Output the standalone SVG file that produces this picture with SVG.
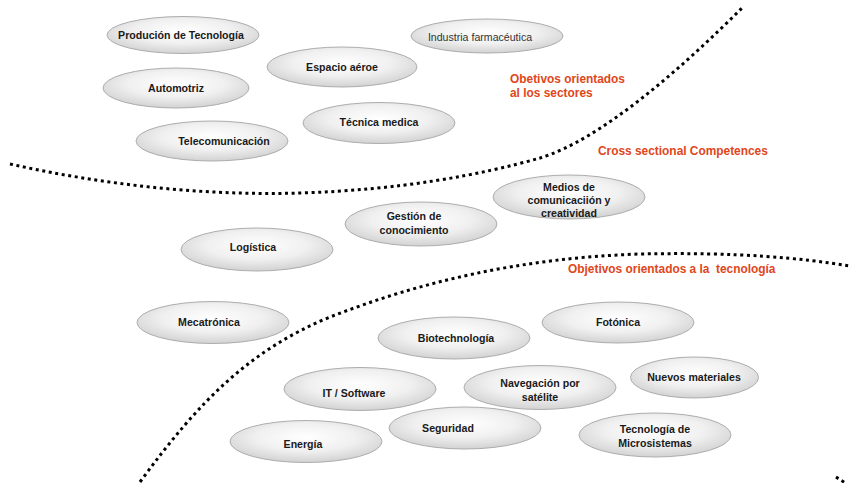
<svg xmlns="http://www.w3.org/2000/svg" width="851" height="483" viewBox="0 0 851 483">
<defs>
<radialGradient id="g" cx="50%" cy="40%" r="60%">
<stop offset="0" stop-color="#ffffff"/>
<stop offset="0.55" stop-color="#f0f0f0"/>
<stop offset="1" stop-color="#d2d2d2"/>
</radialGradient>
<style>
.n ellipse{fill:url(#g);stroke:#adadad;stroke-width:1}
.n text{font-family:"Liberation Sans",Arial,sans-serif;font-size:10.6px;font-weight:bold;fill:#1a1a1a;text-anchor:middle}
.n text.r{font-weight:normal;fill:#333}
.d{fill:none;stroke:#000;stroke-width:3;stroke-dasharray:3 3.6}
.o{font-family:"Liberation Sans",Arial,sans-serif;font-size:11.9px;font-weight:bold;fill:#e0461b}
</style>
</defs>
<rect width="851" height="483" fill="#fff"/>
<g id="connectors">
<path class="d" d="M10,164 C100,184 200,196 300,193 C400,190 480,175 540,158 C600,140 680,70 743,7"/>
<path class="d" d="M140,482 C200,400 250,350 330,317 C420,282 520,258 640,254 C740,252 800,258 850,266"/>
<path class="d" d="M836,477 L850,486"/>
</g>
<g id="labels">
<text class="o" x="510" y="83">Obetivos orientados</text>
<text class="o" x="510" y="97">al los sectores</text>
<text class="o" x="598" y="155">Cross sectional Competences</text>
<text class="o" x="568" y="273" xml:space="preserve">Objetivos orientados a la  tecnología</text>
</g>
<g id="n-produccion" class="n"><ellipse cx="183" cy="35" rx="76" ry="18.5"/><text x="181" y="39">Produción de Tecnología</text></g>
<g id="n-industria" class="n"><ellipse cx="487" cy="36" rx="76" ry="17"/><text class="r" x="480" y="41">Industria farmacéutica</text></g>
<g id="n-espacio" class="n"><ellipse cx="342" cy="67" rx="75" ry="20"/><text x="342" y="71">Espacio aéroe</text></g>
<g id="n-automotriz" class="n"><ellipse cx="176" cy="88" rx="73" ry="20"/><text x="176" y="92">Automotriz</text></g>
<g id="n-tecnica" class="n"><ellipse cx="379" cy="123" rx="76" ry="20.5"/><text x="379" y="126">Técnica medica</text></g>
<g id="n-telecom" class="n"><ellipse cx="212" cy="141" rx="76" ry="20"/><text x="224" y="145">Telecomunicación</text></g>
<g id="n-medios" class="n"><ellipse cx="569" cy="197" rx="76" ry="22"/><text x="569" y="191">Medios de</text><text x="569" y="204">comunicaciión y</text><text x="569" y="217">creatividad</text></g>
<g id="n-gestion" class="n"><ellipse cx="421" cy="224" rx="76" ry="22"/><text x="414" y="220">Gestión de</text><text x="414" y="234">conocimiento</text></g>
<g id="n-logistica" class="n"><ellipse cx="257" cy="249.5" rx="76" ry="21.5"/><text x="253" y="251">Logística</text></g>
<g id="n-mecatronica" class="n"><ellipse cx="213" cy="322.5" rx="76" ry="21"/><text x="209" y="326">Mecatrónica</text></g>
<g id="n-biotech" class="n"><ellipse cx="454" cy="338" rx="76" ry="21"/><text x="456" y="342">Biotechnología</text></g>
<g id="n-fotonica" class="n"><ellipse cx="618" cy="322.5" rx="76" ry="20.5"/><text x="618" y="326">Fotónica</text></g>
<g id="n-it" class="n"><ellipse cx="360" cy="389" rx="76" ry="21.5"/><text x="354" y="397">IT / Software</text></g>
<g id="n-navegacion" class="n"><ellipse cx="540" cy="387.5" rx="76" ry="22"/><text x="540" y="387">Navegación por</text><text x="540" y="401">satélite</text></g>
<g id="n-nuevos" class="n"><ellipse cx="694.5" cy="377.5" rx="64" ry="20.5"/><text x="694" y="381">Nuevos materiales</text></g>
<g id="n-energia" class="n"><ellipse cx="306" cy="441.5" rx="76" ry="21"/><text x="303" y="448">Energía</text></g>
<g id="n-seguridad" class="n"><ellipse cx="465" cy="428" rx="76" ry="21"/><text x="448" y="432">Seguridad</text></g>
<g id="n-microsistemas" class="n"><ellipse cx="655" cy="435" rx="76" ry="22"/><text x="655" y="433">Tecnología de</text><text x="655" y="447">Microsistemas</text></g>
</svg>
